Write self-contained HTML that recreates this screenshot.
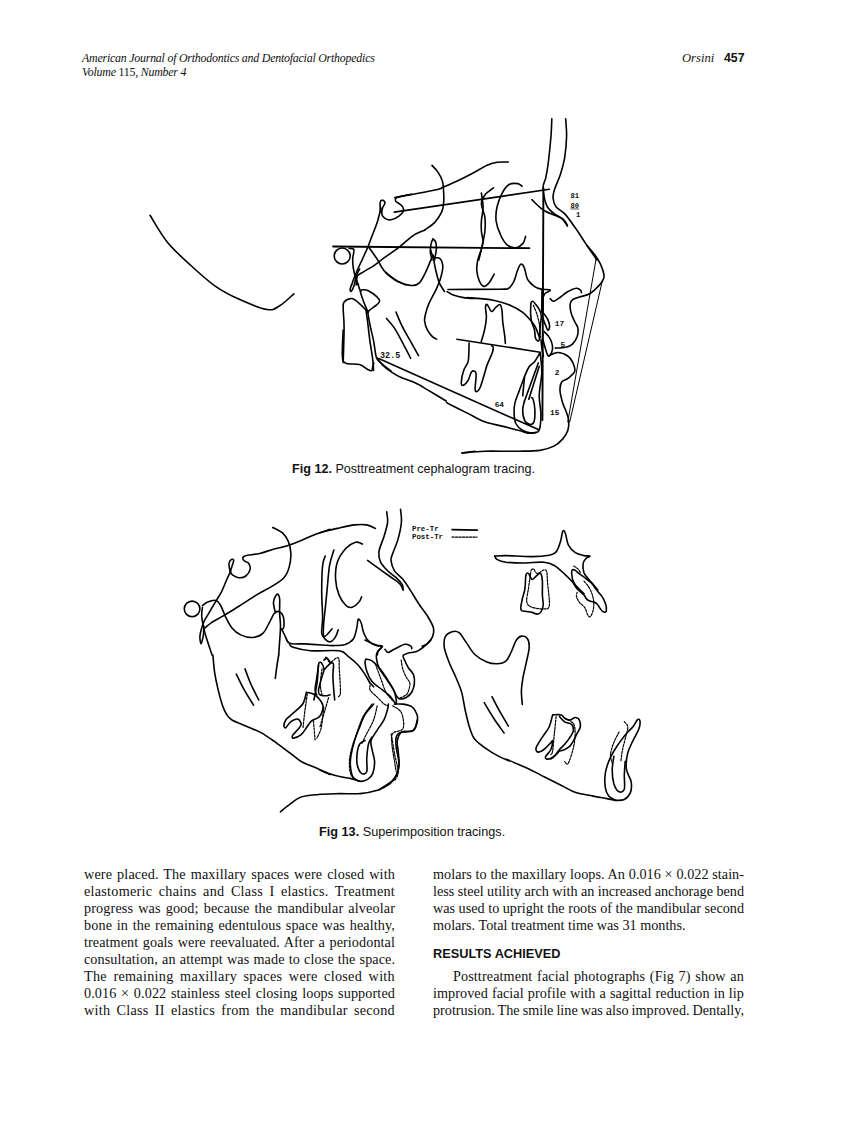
<!DOCTYPE html>
<html><head><meta charset="utf-8">
<style>
html,body{margin:0;padding:0;background:#fff;}
body{width:866px;height:1122px;position:relative;overflow:hidden;color:#111;}
.a{position:absolute;white-space:nowrap;}
.serif{font-family:"Liberation Serif",serif;}
.sans{font-family:"Liberation Sans",sans-serif;}
.hdr{font-size:11.9px;letter-spacing:-0.22px;font-style:italic;line-height:1;}
.col{position:absolute;font-family:"Liberation Serif",serif;font-size:14.2px;letter-spacing:0px;line-height:16.95px;text-align:justify;}
.col .l{display:block;height:16.95px;white-space:nowrap;}
.col .l.nj{text-align-last:left;}
.cap{font-family:"Liberation Sans",sans-serif;line-height:1;}
svg{position:absolute;left:0;top:0;}
.lbl text{font-family:"Liberation Mono",monospace;font-size:7.8px;font-weight:bold;}
#f13 .lbl text{font-weight:bold;}
</style></head><body>
<div class="a serif hdr" style="left:82px;top:52.5px;">American Journal of Orthodontics and Dentofacial Orthopedics</div>
<div class="a serif hdr" style="left:82px;top:67px;">Volume <span style="font-style:normal">115,</span> Number 4</div>
<div class="a serif" style="left:682px;top:52px;font-size:12.6px;font-style:italic;line-height:1;">Orsini</div>
<div class="a sans" style="left:724px;top:52px;font-size:12.3px;font-weight:bold;line-height:1;">457</div>

<div class="a cap" style="left:292px;top:463px;font-size:12.6px;"><b>Fig 12.</b> Posttreatment cephalogram tracing.</div>
<div class="a cap" style="left:319px;top:826px;font-size:12.7px;"><b>Fig 13.</b> Superimposition tracings.</div>

<div class="col" style="left:84px;top:866px;width:312px;">
<span class="l" style="letter-spacing:0.142px;word-spacing:1.242px">were placed. The maxillary spaces were closed with</span>
<span class="l" style="letter-spacing:0.264px;word-spacing:2.684px">elastomeric chains and Class I elastics. Treatment</span>
<span class="l" style="letter-spacing:0.133px;word-spacing:1.351px">progress was good; because the mandibular alveolar</span>
<span class="l" style="letter-spacing:0.117px;word-spacing:1.044px">bone in the remaining edentulous space was healthy,</span>
<span class="l" style="letter-spacing:0.082px;word-spacing:0.884px">treatment goals were reevaluated. After a periodontal</span>
<span class="l" style="letter-spacing:0.072px;word-spacing:0.579px">consultation, an attempt was made to close the space.</span>
<span class="l" style="letter-spacing:0.284px;word-spacing:2.723px">The remaining maxillary spaces were closed with</span>
<span class="l" style="letter-spacing:0.107px;word-spacing:0.987px">0.016 &times; 0.022 stainless steel closing loops supported</span>
<span class="l" style="letter-spacing:0.276px;word-spacing:2.362px">with Class II elastics from the mandibular second</span>
</div>

<div class="col" style="left:433px;top:866px;width:311px;">
<span class="l" style="letter-spacing:0.029px;word-spacing:0.215px">molars to the maxillary loops. An 0.016 &times; 0.022 stain-</span>
<span class="l" style="letter-spacing:0.000px;word-spacing:-0.127px">less steel utility arch with an increased anchorage bend</span>
<span class="l" style="letter-spacing:0.001px;word-spacing:0.007px">was used to upright the roots of the mandibular second</span>
<span class="l nj">molars. Total treatment time was 31 months.</span>
</div>
<div class="a sans" style="left:433px;top:948px;font-size:12.75px;font-weight:bold;line-height:1;">RESULTS ACHIEVED</div>
<div class="col" style="left:433px;top:968px;width:311px;">
<span class="l" style="letter-spacing:0.105px;word-spacing:1.030px"><span style="display:inline-block;width:20px"></span>Posttreatment facial photographs (Fig 7) show an</span>
<span class="l" style="letter-spacing:0.055px;word-spacing:0.471px">improved facial profile with a sagittal reduction in lip</span>
<span class="l" style="letter-spacing:0.000px;word-spacing:-0.547px">protrusion. The smile line was also improved. Dentally,</span>
</div>

<svg width="866" height="1122" viewBox="0 0 866 1122" fill="none" stroke="#000" stroke-width="1.6" stroke-linecap="round" stroke-linejoin="round">
<!-- FIG12 -->
<g id="f12">
<path d="M150.0 215.3 C152.9 219.7 160.8 234.0 167.4 242.2 C174.1 250.4 182.0 257.4 189.9 264.6 C197.8 271.9 206.5 280.0 214.8 285.8 C223.1 291.7 231.0 295.6 239.8 299.6 C248.5 303.5 260.6 308.5 267.2 309.5 C273.9 310.6 275.2 308.4 279.7 305.8 C284.1 303.2 291.5 295.8 293.9 293.8"/>
<path d="M333.1 246.5 L529.4 248.2" stroke-width="1.8"/>
<circle cx="342.2" cy="256.0" r="8.0"/>
<path d="M380.4 212.1 C380.4 210.5 379.8 204.3 380.2 202.3 C380.6 200.3 381.9 200.1 382.7 200.2 C383.5 200.3 385.0 201.7 385.0 202.9 C385.0 204.1 383.3 206.0 382.7 207.5 C382.2 209.1 381.8 210.7 381.8 212.1 C381.8 213.6 381.8 214.9 382.7 216.2 C383.7 217.4 385.8 219.1 387.4 219.6 C388.9 220.2 390.1 220.2 392.0 219.6 C393.9 219.1 397.0 217.6 398.9 216.2 C400.8 214.7 402.9 212.6 403.5 211.0 C404.1 209.3 403.1 207.6 402.4 206.4 C401.6 205.1 400.0 204.3 398.9 203.5 C397.8 202.6 396.2 202.0 395.7 201.2 C395.2 200.3 395.3 199.0 396.0 198.3 C396.7 197.5 397.5 197.2 400.1 196.5 C402.7 195.9 409.7 194.6 411.6 194.2"/>
<path d="M394.8 197.5 C395.7 197.3 393.1 197.9 400.0 196.6 C406.9 195.3 429.2 191.3 436.4 189.7 C443.6 188.1 439.8 188.5 443.3 187.1 C446.8 185.6 452.3 183.3 457.2 181.0 C462.1 178.7 467.8 175.8 472.7 173.2 C477.7 170.6 482.6 167.2 486.6 165.4 C490.6 163.6 493.4 162.9 497.0 162.3 C500.6 161.7 506.4 162.0 508.3 162.0"/>
<path d="M394.3 212.1 L549.3 189.3"/>
<path d="M381.0 208.1 C380.3 210.6 378.6 218.1 377.0 223.1 C375.3 228.1 372.7 234.1 371.2 238.1 C369.6 242.2 369.3 243.7 367.7 247.4 C366.2 251.0 363.9 255.8 362.0 260.1 C360.0 264.3 357.9 268.6 356.2 272.8 C354.4 276.9 352.3 283.0 351.6 285.0"/>
<path d="M351.5 285.0 C351.3 285.7 350.1 288.5 350.1 289.5 C350.1 290.5 350.7 291.9 351.3 291.2 C352.0 290.6 353.3 288.0 354.1 285.5 C354.9 283.0 355.3 278.7 356.2 276.0 C357.1 273.2 359.1 270.2 359.6 269.1"/>
<path d="M349.2 248.3 C350.0 248.5 353.3 247.9 353.9 249.7 C354.4 251.4 352.8 255.8 352.7 258.9 C352.6 262.0 352.7 264.7 353.3 268.1 C353.9 271.6 355.3 276.9 356.2 279.7 C357.0 282.5 358.1 284.1 358.5 285.0"/>
<path d="M356.2 279.6 L360.5 291.6"/>
<path d="M432.0 165.4 C433.1 166.6 436.4 169.8 438.1 172.4 C439.8 175.0 441.5 177.8 442.4 181.0 C443.4 184.2 443.4 187.7 443.6 191.4 C443.9 195.2 444.0 200.1 443.6 203.5 C443.3 207.0 443.1 209.0 441.6 212.2 C440.1 215.4 437.4 219.6 434.6 222.6 C431.8 225.5 426.4 228.6 424.8 229.9"/>
<path d="M425.0 230.0 C423.0 231.0 417.1 232.9 412.8 235.8 C408.4 238.7 403.9 243.5 398.9 247.4 C393.9 251.2 387.0 255.8 382.7 258.9 C378.5 262.0 377.0 263.5 373.5 265.8 C370.0 268.1 364.6 271.0 362.0 272.8 C359.3 274.5 358.3 274.2 357.3 276.2 C356.4 278.3 356.4 283.5 356.2 285.0"/>
<path d="M368.9 247.4 C370.2 249.3 374.5 255.1 377.0 258.9 C379.5 262.8 381.0 267.0 383.9 270.5 C386.8 273.9 390.6 277.3 394.3 279.7 C397.9 282.1 403.9 284.1 405.8 285.0"/>
<path d="M385.6 272.5 C387.6 274.0 393.4 279.0 397.7 281.2 C402.1 283.3 408.0 285.2 411.6 285.5 C415.2 285.8 417.1 285.1 419.4 282.9 C421.7 280.7 423.6 276.3 425.5 272.5 C427.3 268.8 429.4 263.3 430.7 260.4 C432.0 257.5 432.8 256.1 433.3 255.2"/>
<path d="M430.7 250.0 C431.1 251.2 431.7 255.5 433.3 256.9 C434.8 258.4 438.6 256.9 440.2 258.7 C441.8 260.4 442.8 263.9 442.8 267.3 C442.8 270.8 441.3 275.7 440.2 279.4 C439.0 283.2 437.7 285.8 435.9 289.8 C434.0 293.9 430.7 299.7 428.9 303.7 C427.2 307.7 426.2 311.2 425.5 314.1 C424.7 317.0 424.3 318.4 424.6 321.0 C424.9 323.6 425.9 327.1 427.2 329.7 C428.5 332.3 430.8 335.0 432.4 336.6 C434.0 338.2 436.0 338.8 436.7 339.2"/>
<path d="M433.3 256.9 C433.7 259.2 434.8 266.5 435.9 270.8 C436.9 275.1 437.9 279.4 439.3 282.9 C440.8 286.4 443.6 290.1 444.5 291.6"/>
<path d="M432.9 239.0 C432.6 239.8 431.6 241.2 431.2 243.4 C430.7 245.5 430.2 249.3 430.3 252.0 C430.5 254.8 431.8 258.7 432.0 260.0"/>
<path d="M432.9 239.0 C433.3 239.5 434.9 240.1 435.5 241.6 C436.1 243.2 436.5 245.5 436.4 248.6 C436.2 251.6 434.9 258.1 434.6 260.0"/>
<path d="M360.5 291.6 C360.8 291.3 360.9 290.0 362.2 289.8 C363.5 289.7 365.8 289.5 368.3 290.7 C370.8 291.9 375.1 295.0 377.0 296.8 C378.8 298.5 379.6 299.8 379.6 301.1 C379.6 302.4 378.6 303.1 377.0 304.6 C375.4 306.0 371.6 308.5 370.0 309.8 C368.4 311.1 367.9 311.9 367.4 312.4"/>
<path d="M360.5 292.4 C360.9 293.7 362.1 297.5 363.1 300.2 C364.1 303.0 365.7 306.9 366.6 308.9 C367.4 310.9 368.0 311.8 368.3 312.4"/>
<path d="M367.5 311.0 C367.9 313.3 369.0 320.0 370.0 325.0 C371.0 330.0 372.5 335.5 373.6 340.9 C374.7 346.3 375.2 353.8 376.4 357.5 C377.6 361.2 378.6 360.8 381.0 363.0 C383.4 365.2 389.3 369.7 391.0 371.0"/>
<path d="M366.0 310.0 C366.3 312.5 367.4 319.9 368.0 325.0 C368.6 330.1 369.1 335.2 369.9 340.9 C370.7 346.6 372.1 354.4 372.7 359.3 C373.3 364.2 373.5 368.5 373.6 370.4"/>
<path d="M373.8 362.9 C373.6 363.6 373.0 365.9 372.6 367.2 C372.3 368.5 372.5 370.3 371.8 370.7 C371.0 371.1 370.3 370.8 368.3 369.8 C366.3 368.8 363.1 365.7 359.6 364.6 C356.2 363.6 350.3 364.4 347.5 363.8 C344.8 363.2 344.1 363.1 343.2 361.2 C342.3 359.3 342.3 357.7 342.3 352.5 C342.3 347.3 343.0 333.8 343.2 330.0"/>
<path d="M343.2 362.6 C343.3 356.8 344.1 336.9 344.1 327.9 C344.1 319.0 343.2 313.2 343.2 308.9 C343.2 304.6 342.8 303.7 344.1 302.0 C345.4 300.2 349.1 298.8 351.0 298.5 C352.9 298.2 353.6 299.1 355.3 300.2 C357.0 301.4 359.5 303.7 361.4 305.4 C363.3 307.2 365.7 309.8 366.6 310.6"/>
<path d="M378.7 358.6 L538.3 429.6"/>
<path d="M377.0 357.7 C377.8 358.9 379.8 362.3 382.2 364.6 C384.5 367.0 387.6 369.4 390.8 371.6 C394.0 373.7 397.2 375.8 401.2 377.6 C405.3 379.5 410.5 380.7 415.1 382.8 C419.7 385.0 423.7 387.6 428.9 390.6 C434.1 393.7 443.4 399.3 446.2 401.0"/>
<path d="M446.5 402.4 C447.1 402.7 446.5 402.7 450.0 404.5 C453.5 406.3 461.5 410.3 467.3 413.1 C473.1 416.0 478.9 419.6 484.6 421.8 C490.4 424.0 496.2 424.7 502.0 426.1 C507.7 427.6 515.0 429.3 519.3 430.5 C523.6 431.6 525.1 432.8 527.9 433.1 C530.8 433.3 535.2 432.3 536.6 432.2"/>
<path d="M386.5 318.4 C387.8 320.0 391.7 324.0 394.3 327.9 C396.9 331.8 399.3 336.7 402.1 341.8 C404.8 346.9 409.3 355.5 410.7 358.3"/>
<path d="M396.0 312.0 C397.0 314.4 399.8 321.5 402.1 326.2 C404.4 330.9 407.1 335.2 409.9 340.1 C412.6 345.0 417.1 353.1 418.5 355.7"/>
<path d="M493.5 187.9 C492.1 189.1 486.9 192.3 484.9 194.9 C482.9 197.5 481.4 199.8 481.4 203.5 C481.4 207.3 484.3 212.8 484.9 217.4 C485.5 222.0 485.3 226.6 484.9 231.2 C484.4 235.9 483.3 240.3 482.3 245.1 C481.3 249.9 479.4 257.5 478.8 260.0"/>
<path d="M481.4 193.1 C481.7 195.5 483.1 202.4 483.1 207.0 C483.1 211.6 481.7 216.8 481.4 220.9 C481.1 224.9 481.1 227.8 481.4 231.2 C481.7 234.7 483.1 238.8 483.1 241.6 C483.1 244.5 481.7 247.4 481.4 248.6"/>
<path d="M481.2 250.0 C480.6 251.7 478.4 256.9 477.7 260.4 C477.0 263.9 476.6 267.3 476.8 270.8 C477.1 274.2 478.3 278.6 479.4 281.2 C480.6 283.8 482.2 286.1 483.8 286.4 C485.4 286.7 487.2 284.9 489.0 282.9 C490.7 280.9 493.3 275.7 494.2 274.2"/>
<path d="M522.1 186.2 C521.4 185.8 519.9 183.9 517.8 183.6 C515.6 183.3 511.7 182.9 509.1 184.5 C506.5 186.1 504.2 189.4 502.2 193.1 C500.2 196.9 498.0 202.4 497.0 207.0 C496.0 211.6 495.6 216.2 496.1 220.9 C496.7 225.5 498.6 230.7 500.5 234.7 C502.3 238.8 504.8 242.9 507.4 245.1 C510.0 247.3 513.5 248.0 516.1 247.7 C518.6 247.4 521.4 245.2 523.0 243.4 C524.6 241.5 525.1 237.6 525.6 236.4"/>
<path d="M551.8 118.7 C551.7 121.5 551.6 128.8 551.0 136.0 C550.4 143.2 549.2 155.0 548.4 162.0 C547.5 168.9 546.7 173.5 545.8 177.6 C544.9 181.6 543.5 183.0 543.2 186.2 C542.9 189.4 543.3 193.1 544.1 196.6 C544.8 200.1 545.8 204.1 547.5 207.0 C549.2 209.9 551.8 211.9 554.4 213.9 C557.0 215.9 560.9 217.2 563.1 219.1 C565.3 221.0 566.7 224.2 567.4 225.2"/>
<path d="M567.4 226.1 C566.4 224.8 565.3 220.9 561.4 218.3 C557.5 215.7 549.0 213.6 544.1 210.5 C539.1 207.4 533.9 201.5 531.9 199.7"/>
<path d="M565.7 118.7 C565.8 121.5 566.7 129.6 566.6 136.0 C566.4 142.3 565.8 150.4 564.8 156.8 C563.8 163.1 562.2 168.6 560.5 174.1 C558.8 179.6 555.7 185.6 554.4 189.7 C553.2 193.7 552.8 195.5 553.1 198.3 C553.3 201.2 554.2 204.4 556.2 207.0 C558.1 209.6 561.7 210.5 564.8 213.9 C568.0 217.4 571.8 222.9 575.2 227.8 C578.7 232.7 582.0 238.0 585.6 243.4 C589.2 248.7 595.0 257.2 596.9 260.0"/>
<path d="M586.6 245.0 C588.0 246.8 593.0 252.3 595.3 255.4 C597.6 258.6 599.0 260.9 600.5 264.1 C601.9 267.3 603.5 271.9 603.9 274.5 C604.4 277.1 603.8 277.9 603.1 279.7 C602.3 281.4 601.8 282.6 599.6 284.9 C597.4 287.2 593.4 291.5 590.1 293.5 C586.7 295.6 582.6 296.0 579.7 297.0 C576.8 298.0 574.3 298.4 572.7 299.6 C571.2 300.8 570.4 301.8 570.2 303.9 C569.9 306.1 570.3 309.7 571.0 312.6 C571.7 315.5 573.3 318.6 574.5 321.2 C575.6 323.8 577.5 325.6 577.9 328.2 C578.4 330.8 577.9 334.2 577.1 336.8 C576.2 339.4 574.6 342.0 572.7 343.8 C570.9 345.5 568.7 346.5 565.8 347.2 C562.9 348.0 557.2 348.0 555.4 348.1"/>
<path d="M550.2 298.7 C550.8 299.2 552.0 301.6 553.7 301.3 C555.4 301.0 558.3 298.6 560.6 297.0 C562.9 295.4 565.0 293.2 567.6 291.8 C570.2 290.4 574.0 288.6 576.2 288.3 C578.4 288.0 579.7 289.3 580.5 290.1 C581.4 290.8 581.3 292.2 581.4 292.7"/>
<path d="M596.1 258.9 L567.8 422.0" stroke-width="1.0"/>
<path d="M602.2 281.4 L569.7 422.0" stroke-width="1.0"/>
<path d="M548.7 356.0 C550.2 355.4 554.2 352.5 557.4 352.5 C560.6 352.5 565.2 354.2 567.8 356.0 C570.4 357.7 571.8 360.3 573.0 362.9 C574.1 365.5 575.6 369.0 574.7 371.6 C573.8 374.2 569.9 376.8 567.8 378.5 C565.6 380.2 563.0 379.9 561.7 382.0 C560.4 384.0 559.8 387.2 560.0 390.6 C560.1 394.1 561.6 399.3 562.6 402.7 C563.6 406.2 565.0 408.5 566.1 411.4 C567.1 414.3 568.4 416.9 568.6 420.1 C568.9 423.2 568.8 427.3 567.8 430.5 C566.8 433.6 564.9 436.5 562.6 439.1 C560.3 441.7 557.7 444.2 553.9 446.1 C550.2 447.9 545.8 449.5 540.1 450.4 C534.3 451.2 528.5 451.1 519.3 451.2 C510.0 451.4 494.2 451.0 484.6 451.2 C475.1 451.5 465.9 452.7 462.1 453.0"/>
<path d="M461.8 453.0 L475.0 451.2"/>
<path d="M543.4 188.0 L542.4 420.0" stroke-width="1.9"/>
<path d="M542.6 290.0 L542.3 312.0" stroke-width="2.8"/>
<path d="M448.0 289.5 C456.7 289.5 489.9 289.4 500.0 289.2 C510.1 289.0 506.4 289.6 508.7 288.3 C511.0 287.0 512.4 284.3 513.9 281.4 C515.3 278.5 516.2 273.9 517.3 271.0 C518.5 268.1 519.6 264.7 520.8 264.1 C521.9 263.5 523.1 265.0 524.2 267.6 C525.4 270.2 526.0 276.5 527.7 279.7 C529.4 282.9 532.3 285.0 534.6 286.6 C537.0 288.2 539.0 288.6 541.6 289.2 C544.2 289.8 549.7 289.3 550.2 290.1 C550.8 290.8 546.2 292.4 545.0 293.5 C543.9 294.7 543.6 296.4 543.3 297.0"/>
<path d="M447.1 291.6 C448.1 292.1 450.4 294.0 453.2 295.0 C455.9 296.0 459.9 297.1 463.6 297.6 C467.2 298.2 473.1 298.4 475.0 298.5"/>
<path d="M467.3 297.6 C471.7 298.1 486.1 298.9 493.3 300.2 C500.5 301.5 505.7 303.4 510.6 305.4 C515.5 307.4 519.6 310.0 522.7 312.4 C525.9 314.7 527.7 317.0 529.7 319.3 C531.7 321.6 533.3 323.3 534.9 326.2 C536.5 329.1 538.5 334.9 539.2 336.6"/>
<path d="M481.2 341.8 C481.8 339.8 483.8 333.7 484.6 329.7 C485.5 325.6 486.2 321.3 486.4 317.6 C486.5 313.8 485.4 309.3 485.5 307.2 C485.7 305.0 486.2 303.8 487.2 304.6 C488.3 305.3 490.1 311.1 491.6 311.5 C493.0 311.9 494.5 308.3 495.9 307.2 C497.3 306.0 499.2 304.0 500.2 304.6 C501.2 305.1 501.5 307.6 502.0 310.6 C502.4 313.7 502.4 318.7 502.8 322.7 C503.3 326.8 504.1 331.4 504.6 334.9 C505.0 338.3 505.3 342.1 505.4 343.5"/>
<path d="M456.9 339.2 L540.1 352.2"/>
<path d="M469.1 343.0 C468.9 346.0 469.1 356.7 468.2 361.2 C467.3 365.7 465.0 366.4 463.9 369.8 C462.7 373.3 461.4 379.4 461.3 382.0 C461.1 384.6 461.8 385.7 463.0 385.4 C464.1 385.1 466.7 382.5 468.2 380.2 C469.6 377.9 470.4 372.7 471.7 371.6 C473.0 370.4 475.4 370.4 476.0 373.3 C476.6 376.2 475.0 385.9 475.1 388.9 C475.3 391.9 476.0 391.8 476.8 391.5 C477.7 391.2 479.0 390.2 480.3 387.2 C481.6 384.1 483.5 377.1 484.6 373.3 C485.8 369.5 485.9 368.1 487.2 364.6 C488.5 361.2 491.4 355.4 492.4 352.5 C493.4 349.6 493.4 348.5 493.3 347.3 C493.2 346.2 491.9 345.9 491.6 345.6"/>
<path d="M531.3 302.1 C531.6 302.0 532.3 301.0 533.0 301.4 C533.8 301.8 534.7 303.2 535.8 304.5 C536.8 305.9 538.3 307.6 539.2 309.4 C540.2 311.2 541.1 313.4 541.3 315.6 C541.6 317.8 540.9 320.1 540.6 322.6 C540.4 325.0 540.2 327.3 539.9 330.2 C539.7 333.1 539.7 338.2 539.2 339.9 C538.8 341.6 537.8 340.9 537.2 340.6 C536.5 340.2 535.9 339.7 535.4 337.8 C535.0 336.0 535.0 332.1 534.4 329.5 C533.8 326.8 532.3 324.5 531.6 321.9 C531.0 319.2 530.7 316.3 530.6 313.6 C530.5 310.8 530.7 307.1 530.8 305.2 C530.9 303.3 531.2 302.6 531.3 302.1"/>
<path d="M533.4 305.2 C534.0 306.9 536.1 311.5 537.2 314.9 C538.2 318.4 539.1 322.1 539.6 326.0 C540.1 330.0 540.2 336.4 540.3 338.5" stroke-dasharray="2.2 1.3" stroke-width="1.2"/>
<path d="M542.7 312.2 C543.5 313.3 546.4 316.8 547.6 319.1 C548.7 321.4 549.6 324.2 549.6 326.0 C549.7 327.9 548.7 330.6 547.9 330.2 C547.1 329.7 545.7 325.3 544.8 323.3 C543.9 321.2 543.1 318.6 542.7 317.7"/>
<path d="M544.1 331.6 C545.0 332.6 548.3 335.5 549.6 337.8 C551.0 340.1 552.1 343.0 552.4 345.4 C552.8 347.9 552.4 350.6 551.7 352.4 C551.0 354.1 549.3 356.4 548.3 355.8 C547.2 355.2 546.4 351.8 545.5 348.9 C544.6 346.0 543.1 340.9 542.7 338.5 C542.3 336.1 543.0 335.0 543.1 334.3"/>
<path d="M541.0 339.9 C541.2 341.4 541.6 346.1 542.0 348.9 C542.4 351.7 543.2 355.2 543.4 356.5"/>
<path d="M540.1 352.5 C539.2 354.0 536.7 358.7 534.9 361.2 C533.0 363.6 530.5 364.6 528.8 367.2 C527.1 369.8 526.1 372.9 524.5 376.8 C522.9 380.7 520.9 386.3 519.3 390.6 C517.7 395.0 515.8 399.0 515.0 402.7 C514.1 406.5 513.9 409.7 514.1 413.1 C514.2 416.6 514.4 420.6 515.8 423.5 C517.3 426.4 520.2 428.9 522.7 430.5 C525.3 432.0 529.0 432.8 531.4 433.1 C533.9 433.3 536.0 433.2 537.5 432.2 C538.9 431.2 539.5 430.2 540.1 427.0 C540.6 423.8 541.1 418.3 540.9 413.1 C540.8 407.9 539.1 402.5 539.2 395.8 C539.3 389.2 541.5 379.4 541.8 373.3 C542.1 367.2 541.2 362.9 540.9 359.4 C540.6 356.0 540.2 353.7 540.1 352.5"/>
<path d="M524.5 401.0 C524.2 402.5 522.7 406.5 522.7 409.7 C522.7 412.9 523.3 417.6 524.5 420.1 C525.6 422.5 528.1 424.1 529.7 424.4 C531.3 424.7 533.1 424.3 534.0 421.8 C534.9 419.3 535.0 413.4 534.9 409.7 C534.7 405.9 533.7 401.3 533.1 399.3 C532.6 397.3 531.7 397.8 531.4 397.6"/>
<path d="M538.3 362.9 L524.5 401.0"/>
<path d="M539.2 366.4 L528.8 399.3"/>
<path d="M524.5 376.8 L522.7 395.8"/>
<g class="lbl" fill="#111" stroke="none"><text x="570.4" y="197.5" style="font-size:7.2px">81</text>
<text x="570.4" y="207.6" text-decoration="underline" style="font-size:7.2px">80</text>
<text x="576.0" y="216.5" style="font-size:7.2px">1</text>
<text x="380.1" y="358.4" style="font-size:8.4px">32.5</text>
<text x="554.8" y="326.3" style="font-size:7.8px">17</text>
<text x="560.6" y="346.9" style="font-size:7.8px">5</text>
<text x="554.8" y="374.9" style="font-size:7.8px">2</text>
<text x="550.1" y="414.7" style="font-size:7.8px">15</text>
<text x="494.7" y="406.9" style="font-size:7.8px">64</text></g></g><!--e12-->
<!-- FIG13 -->
<g id="f13">
<circle cx="192.1" cy="608.9" r="7.8"/>
<path d="M230.2 572.6 C230.0 571.1 228.9 566.1 229.0 563.9 C229.2 561.7 230.3 560.2 231.1 559.6 C231.9 558.9 233.5 559.2 233.7 560.1 C233.9 560.9 233.0 562.8 232.5 564.8 C232.0 566.7 230.5 570.0 230.6 571.7 C230.6 573.4 231.4 574.1 232.8 575.2 C234.2 576.2 236.7 577.6 238.9 577.7 C241.1 577.9 243.9 577.5 245.8 576.0 C247.7 574.6 249.7 571.3 250.2 569.1 C250.6 566.9 249.4 564.4 248.4 563.0 C247.4 561.6 245.0 561.8 244.1 560.8 C243.2 559.8 242.6 557.9 243.2 557.0 C243.8 556.0 244.8 555.8 247.6 555.2 C250.3 554.7 255.3 554.5 259.7 553.5 C264.0 552.5 268.9 550.5 273.5 549.2 C278.2 547.9 282.8 547.1 287.4 545.7 C292.0 544.3 296.6 542.4 301.2 540.5 C305.9 538.6 310.3 536.3 315.1 534.4 C319.9 532.6 327.5 530.1 330.0 529.2"/>
<path d="M320.0 532.7 C322.9 532.0 331.5 529.7 337.3 528.4 C343.1 527.1 349.7 525.5 354.6 524.9 C359.5 524.3 363.3 524.3 366.8 524.9 C370.2 525.5 374.0 527.8 375.4 528.4"/>
<path d="M272.7 527.5 C274.3 528.4 279.6 530.4 282.2 532.7 C284.8 535.0 286.8 537.9 288.3 541.4 C289.7 544.8 290.7 549.2 290.9 553.5 C291.0 557.8 290.3 563.3 289.1 567.4 C288.0 571.4 286.8 574.6 283.9 577.7 C281.0 580.9 276.4 583.5 271.8 586.4 C267.2 589.3 261.7 591.7 256.2 595.1 C250.7 598.4 244.4 602.9 238.9 606.3 C233.4 609.8 227.9 613.1 223.3 615.9 C218.7 618.6 214.2 620.8 211.2 622.8 C208.1 624.8 206.1 627.1 205.1 628.0"/>
<path d="M230.6 571.7 C229.9 573.0 228.3 576.2 226.8 579.5 C225.3 582.8 223.3 588.1 221.6 591.6 C219.8 595.1 218.3 597.1 216.4 600.3 C214.5 603.4 212.3 607.2 210.3 610.7 C208.3 614.1 205.7 618.2 204.2 621.1 C202.8 623.9 202.4 625.4 201.7 628.0 C200.9 630.6 200.0 634.0 199.9 636.6 C199.8 639.2 200.6 643.9 201.1 643.6 C201.7 643.3 202.9 637.8 203.4 634.9 C203.8 632.0 203.8 627.7 203.9 626.2"/>
<path d="M202.5 605.5 C203.4 604.9 205.5 602.9 207.7 602.0 C209.9 601.1 213.3 599.7 215.5 600.3 C217.7 600.8 219.0 602.6 220.7 605.5 C222.4 608.3 224.0 613.8 225.9 617.6 C227.8 621.3 229.5 625.1 232.0 628.0 C234.4 630.9 237.2 633.3 240.6 634.9 C244.1 636.5 249.0 637.8 252.7 637.5 C256.5 637.2 260.3 635.9 263.1 633.2 C266.0 630.4 268.2 624.4 270.1 621.1 C271.9 617.7 273.0 614.8 274.4 613.3 C275.8 611.7 277.3 611.1 278.7 611.5 C280.2 612.0 282.2 613.4 283.1 615.9 C283.9 618.3 284.1 623.9 283.9 626.2 C283.8 628.6 282.5 629.1 282.2 629.7"/>
<path d="M202.5 607.2 C202.4 608.6 201.5 612.7 201.7 615.9 C201.8 619.0 202.7 622.8 203.4 626.2 C204.1 629.7 204.5 631.8 206.0 636.6 C207.4 641.4 211.0 651.9 212.0 655.0"/>
<path d="M212.9 655.0 C213.2 657.9 213.8 666.5 214.6 672.3 C215.5 678.1 216.8 684.2 218.1 689.6 C219.4 695.1 221.0 701.0 222.4 705.2 C223.9 709.4 225.2 712.3 226.8 714.8 C228.4 717.2 228.8 718.1 232.0 720.0 C235.1 721.8 240.9 723.9 245.8 726.0 C250.7 728.2 256.2 730.1 261.4 732.9 C266.6 735.8 272.1 739.9 277.0 743.3 C281.9 746.8 286.8 750.7 290.9 753.7 C294.9 756.8 297.2 759.2 301.2 761.5 C305.3 763.8 310.3 765.4 315.1 767.6 C319.9 769.8 327.5 773.4 330.0 774.5"/>
<path d="M275.3 612.4 C275.0 610.7 273.2 605.0 273.5 602.0 C273.8 599.0 276.0 594.8 277.0 594.2 C278.0 593.6 279.2 595.5 279.6 598.5 C280.0 601.6 279.5 607.8 279.6 612.4 C279.7 617.0 280.5 621.3 280.5 626.2 C280.5 631.2 279.9 637.0 279.6 641.8 C279.3 646.6 278.9 652.8 278.7 655.0"/>
<path d="M278.7 655.0 C278.4 656.7 277.6 661.5 277.0 665.4 C276.4 669.3 275.6 676.2 275.3 678.4"/>
<path d="M325.2 556.1 C324.8 557.7 323.2 559.7 322.6 565.6 C322.0 571.5 321.7 582.9 321.7 591.6 C321.7 600.3 322.6 610.7 322.6 617.6 C322.6 624.5 321.3 629.6 321.7 633.2 C322.2 636.8 323.8 637.8 325.2 639.2 C326.6 640.7 328.7 642.3 330.4 641.8 C332.1 641.4 334.3 638.7 335.6 636.6 C336.9 634.6 337.8 630.9 338.2 629.7"/>
<path d="M333.9 550.0 C333.1 552.6 330.7 558.7 329.5 565.6 C328.4 572.6 327.7 584.4 326.9 591.6 C326.2 598.8 325.8 603.2 325.2 608.9 C324.6 614.7 323.6 621.6 323.5 626.2 C323.3 630.9 322.9 636.2 324.3 636.6 C325.8 637.1 330.8 630.1 332.1 628.8"/>
<path d="M362.4 544.0 C361.3 543.7 358.3 541.5 355.5 542.2 C352.8 543.0 349.0 545.0 346.0 548.3 C343.0 551.6 339.1 557.0 337.3 562.2 C335.6 567.4 335.3 574.0 335.6 579.5 C335.9 585.0 337.3 590.7 339.1 595.1 C340.8 599.4 343.8 603.4 346.0 605.5 C348.1 607.5 349.9 607.8 352.0 607.2 C354.2 606.6 357.4 603.7 359.0 602.0 C360.6 600.3 361.1 597.7 361.6 596.8"/>
<path d="M386.7 511.9 C386.8 513.7 388.0 518.3 387.6 522.3 C387.1 526.4 385.5 531.3 384.1 536.2 C382.6 541.1 379.5 547.4 378.9 551.8 C378.3 556.1 379.2 559.0 380.6 562.2 C382.1 565.3 385.0 568.2 387.6 570.8 C390.2 573.4 393.8 575.4 396.2 577.7 C398.7 580.1 401.1 582.7 402.3 584.7 C403.4 586.7 403.0 589.0 403.1 589.9"/>
<path d="M367.6 560.4 C369.2 561.6 373.6 564.8 377.2 567.4 C380.8 570.0 385.5 573.3 389.3 576.0 C393.0 578.8 397.4 581.5 399.7 583.8 C402.0 586.1 402.6 588.9 403.1 589.9"/>
<path d="M400.5 509.3 C400.7 511.5 401.8 517.3 401.4 522.3 C401.0 527.4 399.4 534.4 397.9 539.6 C396.5 544.8 393.9 550.0 392.7 553.5 C391.6 557.0 390.7 557.5 391.0 560.4 C391.3 563.3 392.5 567.6 394.5 570.8 C396.5 574.0 400.5 576.3 403.1 579.5 C405.7 582.7 407.5 585.8 410.1 589.9 C412.7 593.9 415.8 599.4 418.7 603.7 C421.6 608.1 424.9 611.8 427.4 615.9 C429.8 619.9 432.6 624.5 433.5 628.0 C434.3 631.4 433.6 634.0 432.6 636.6 C431.6 639.2 429.1 642.0 427.4 643.6 C425.7 645.2 423.1 645.7 422.2 646.2"/>
<path d="M281.5 628.9 C282.1 630.0 283.7 633.4 285.0 635.8 C286.4 638.2 286.4 642.0 289.6 643.3 C292.9 644.6 299.3 643.6 304.6 643.9 C310.0 644.2 317.2 644.7 322.0 645.0 C326.8 645.3 329.7 645.7 333.5 645.6 C337.4 645.5 341.8 645.5 345.1 644.5 C348.3 643.4 351.2 641.9 353.1 639.3 C355.1 636.7 355.8 631.9 356.6 628.9 C357.4 625.8 357.4 622.4 357.8 620.8 C358.1 619.1 358.3 618.7 358.9 619.1 C359.5 619.4 360.5 620.9 361.2 623.1 C362.0 625.3 362.6 629.6 363.5 632.3 C364.5 635.0 365.7 637.4 367.0 639.3 C368.3 641.1 369.9 642.3 371.6 643.3 C373.3 644.3 375.6 644.8 377.4 645.3 C379.2 645.7 382.4 645.3 382.6 646.2 C382.8 647.1 379.4 649.3 378.5 650.8 C377.6 652.3 377.4 654.3 377.2 655.0"/>
<path d="M289.6 644.5 C290.2 644.9 289.6 646.3 293.1 647.3 C296.6 648.4 302.7 650.2 310.4 650.8 C318.1 651.4 332.9 649.8 339.3 650.8 C345.6 651.8 345.4 654.3 348.5 656.6 C351.6 658.9 355.1 661.8 357.8 664.7 C360.5 667.6 362.6 670.8 364.7 673.9 C366.7 677.0 369.1 681.6 370.0 683.1"/>
<path d="M370.2 683.3 L373.7 686.8"/>
<path d="M280.4 811.8 C281.8 810.6 285.6 807.3 289.1 804.9 C292.5 802.4 296.3 798.8 301.2 797.1 C306.1 795.3 312.1 795.1 318.5 794.5 C324.8 793.9 332.4 793.8 339.3 793.6 C346.2 793.5 353.7 794.2 360.1 793.6 C366.4 793.0 372.5 791.7 377.4 790.2 C382.3 788.6 386.3 786.5 389.5 784.1 C392.7 781.6 394.9 778.6 396.4 775.4 C398.0 772.3 398.8 769.1 399.0 765.0 C399.3 761.0 398.5 755.2 398.2 751.2 C397.9 747.1 396.7 744.0 397.3 740.8 C397.9 737.6 399.2 733.7 401.6 732.1 C404.1 730.5 409.7 732.1 412.0 731.3 C414.3 730.4 414.6 728.8 415.5 726.9 C416.4 725.1 416.9 721.2 417.2 720.0"/>
<path d="M391.2 733.9 C391.8 737.3 393.6 748.3 394.7 754.6 C395.9 761.0 398.2 767.6 398.2 772.0 C398.2 776.3 395.3 779.2 394.7 780.6" stroke-dasharray="2.2 1.3" stroke-width="1.2"/>
<path d="M313.9 700.0 C314.5 696.8 316.6 686.7 317.3 680.8 C318.1 674.9 317.9 667.7 318.5 664.7 C319.1 661.6 320.0 662.2 320.8 662.4 C321.6 662.5 322.5 664.7 323.1 665.8 C323.7 667.0 323.5 669.3 324.3 669.3 C325.0 669.3 326.6 666.9 327.7 665.8 C328.9 664.8 330.2 663.1 331.2 662.9 C332.2 662.7 333.2 662.6 333.5 664.7 C333.8 666.7 332.9 671.4 332.9 675.1 C332.9 678.7 333.2 682.4 333.5 686.6 C333.8 690.8 334.5 697.8 334.7 700.0"/>
<path d="M324.3 669.3 C323.7 671.2 321.8 677.4 320.8 680.8 C319.8 684.3 318.7 687.8 318.5 690.1 C318.3 692.4 318.5 693.7 319.7 694.7 C320.8 695.7 323.7 695.8 325.4 695.8 C327.2 695.8 329.3 694.9 330.0 694.7"/>
<path d="M324.8 658.9 C325.1 658.6 325.7 656.6 326.6 657.2 C327.4 657.7 328.1 662.3 330.0 662.4 C332.0 662.5 336.6 656.6 338.1 657.7 C339.7 658.9 338.9 663.5 339.3 669.3 C339.7 675.1 340.6 687.8 340.4 692.4 C340.2 697.0 338.5 696.2 338.1 697.0" stroke-dasharray="2.2 1.3" stroke-width="1.2"/>
<path d="M401.2 660.0 C401.4 661.5 402.0 666.4 402.9 669.3 C403.8 672.2 405.2 675.1 406.4 677.4 C407.5 679.7 409.5 681.1 409.9 683.2 C410.2 685.3 409.3 688.2 408.7 690.1 C408.1 692.1 407.9 693.4 406.4 694.8 C404.8 696.1 400.6 697.7 399.4 698.3" stroke-dasharray="2.2 1.3" stroke-width="1.2"/>
<path d="M365.0 640.0 C366.8 640.9 372.7 644.0 375.4 645.2 C378.2 646.4 381.2 645.8 381.5 646.9 C381.8 648.1 378.0 650.4 377.2 652.1 C376.3 653.9 376.0 654.7 376.3 657.3 C376.6 659.9 377.3 664.2 378.9 667.7 C380.5 671.2 383.5 674.6 385.8 678.1 C388.1 681.6 391.0 685.6 392.7 688.5 C394.5 691.4 395.1 693.7 396.2 695.4 C397.4 697.2 397.9 698.6 399.7 698.9 C401.4 699.2 404.6 698.3 406.6 697.2 C408.6 696.0 410.5 694.3 411.8 692.0 C413.1 689.7 414.1 686.2 414.4 683.3 C414.7 680.4 414.5 677.2 413.5 674.6 C412.5 672.0 409.8 670.0 408.3 667.7 C406.9 665.4 405.7 662.8 404.9 660.8 C404.0 658.8 402.6 656.9 403.1 655.6 C403.7 654.3 406.0 653.7 408.3 653.0 C410.6 652.3 414.1 652.6 417.0 651.3 C419.9 650.0 423.3 647.1 425.7 645.2 C428.0 643.3 430.0 640.9 430.9 640.0"/>
<path d="M385.0 649.4 C385.5 649.9 386.8 652.4 388.2 652.5 C389.7 652.5 390.8 650.9 393.6 649.5 C396.4 648.2 402.0 644.9 404.9 644.3 C407.8 643.8 409.8 645.3 410.9 646.1 C412.1 646.8 411.7 648.2 411.8 648.7"/>
<path d="M365.9 659.1 C366.9 659.3 369.5 659.1 372.0 660.8 C374.4 662.5 378.0 666.3 380.6 669.4 C383.2 672.6 385.2 676.1 387.6 679.8 C389.9 683.6 393.0 687.9 394.5 692.0 C395.9 696.0 396.8 703.2 396.2 704.1 C395.6 705.0 393.6 699.8 391.0 697.2 C388.4 694.6 383.8 691.1 380.6 688.5 C377.4 685.9 374.3 684.5 372.0 681.6 C369.7 678.7 367.9 674.4 366.8 671.2 C365.6 668.0 365.2 664.5 365.0 662.5 C364.9 660.5 365.8 659.6 365.9 659.1"/>
<path d="M370.2 685.0 C370.2 685.9 369.1 688.2 370.2 690.2 C371.4 692.3 374.8 694.8 377.2 697.2 C379.5 699.5 382.2 702.6 384.1 704.1 C386.0 705.5 387.7 705.5 388.4 705.8" stroke-dasharray="2.2 1.3" stroke-width="1.2"/>
<path d="M375.4 664.2 C376.3 666.6 378.9 673.5 380.6 678.1 C382.4 682.7 383.8 688.2 385.8 692.0 C387.8 695.7 391.6 699.2 392.7 700.6" stroke-dasharray="2.2 1.3" stroke-width="1.2"/>
<path d="M394.5 704.1 C395.9 704.1 400.3 703.7 403.1 704.1 C406.0 704.5 409.5 705.0 411.8 706.7 C414.1 708.4 416.1 711.7 417.0 714.5 C417.9 717.2 417.6 720.5 417.0 723.1 C416.4 725.7 415.3 728.6 413.5 730.1 C411.8 731.5 408.9 731.4 406.6 731.8 C404.3 732.2 401.4 731.8 399.7 732.7 C397.9 733.5 396.8 734.5 396.2 737.0 C395.6 739.5 395.8 743.3 396.2 747.4 C396.6 751.4 398.5 757.2 398.8 761.2 C399.1 765.3 399.0 768.5 397.9 771.6 C396.9 774.8 394.8 778.0 392.7 780.3 C390.7 782.6 388.1 783.9 385.8 785.5 C383.5 787.1 380.0 789.2 378.9 790.0"/>
<path d="M392.7 705.8 C394.2 707.0 399.7 709.0 401.4 712.7 C403.1 716.5 404.6 724.9 403.1 728.3 C401.7 731.8 394.6 730.9 392.7 733.5 C390.9 736.1 391.6 739.3 391.9 743.9 C392.2 748.5 393.8 756.6 394.5 761.2 C395.2 765.9 395.9 769.9 396.2 771.6" stroke-dasharray="2.2 1.3" stroke-width="1.2"/>
<path d="M373.7 704.1 C372.3 705.8 367.3 710.7 365.0 714.5 C362.7 718.2 361.6 722.3 359.8 726.6 C358.1 730.9 356.1 735.8 354.6 740.5 C353.2 745.1 351.9 750.3 351.2 754.3 C350.5 758.4 350.0 761.0 350.3 764.7 C350.6 768.5 351.3 774.1 352.9 776.8 C354.5 779.6 357.4 780.7 359.8 781.2 C362.3 781.6 365.5 780.7 367.6 779.4 C369.8 778.1 371.7 776.4 372.8 773.4 C374.0 770.3 374.7 765.3 374.6 761.2 C374.4 757.2 372.5 752.6 372.0 749.1 C371.4 745.7 370.2 743.6 371.1 740.5 C372.0 737.3 375.0 733.5 377.2 730.1 C379.3 726.6 382.4 723.1 384.1 719.7 C385.8 716.2 386.8 711.9 387.6 709.3 C388.3 706.7 388.3 705.0 388.4 704.1"/>
<path d="M365.0 740.5 C364.2 741.0 361.1 741.9 359.8 743.9 C358.5 745.9 357.7 749.1 357.2 752.6 C356.8 756.1 356.5 761.2 357.2 764.7 C358.0 768.2 360.0 772.2 361.6 773.4 C363.2 774.5 365.9 774.2 366.8 771.6 C367.6 769.0 366.5 762.4 366.8 757.8 C367.1 753.2 367.6 747.4 368.5 743.9 C369.4 740.5 371.4 738.2 372.0 737.0"/>
<path d="M372.0 704.1 C370.5 706.1 365.8 711.6 363.3 716.2 C360.8 720.8 359.1 726.6 357.2 731.8 C355.4 737.0 353.3 742.5 352.0 747.4 C350.7 752.3 349.6 756.6 349.4 761.2 C349.3 765.9 349.4 771.6 351.2 775.1 C352.9 778.6 358.4 780.9 359.8 782.0" stroke-dasharray="2.2 1.3" stroke-width="1.2"/>
<path d="M377.2 705.8 C376.6 708.1 375.4 715.1 373.7 719.7 C372.0 724.3 368.8 729.5 366.8 733.5 C364.7 737.6 362.4 742.2 361.6 743.9" stroke-dasharray="2.2 1.3" stroke-width="1.2"/>
<path d="M320.0 769.9 C321.4 770.5 325.2 772.2 328.7 773.4 C332.1 774.5 337.0 776.0 340.8 776.8 C344.5 777.7 348.0 777.8 351.2 778.6 C354.4 779.3 358.4 780.7 359.8 781.2"/>
<path d="M320.0 726.6 C320.9 723.7 323.8 714.2 325.2 709.3 C326.6 704.4 328.1 699.2 328.7 697.2" stroke-dasharray="2.2 1.3" stroke-width="1.2"/>
<path d="M323.8 660.2 C324.3 659.9 326.2 658.2 327.2 658.5 C328.3 658.8 329.5 661.4 330.0 661.9"/>
<path d="M318.6 665.4 C318.3 667.4 317.4 673.5 316.8 677.5 C316.3 681.6 315.1 686.8 315.1 689.6 C315.1 692.5 316.5 694.0 316.8 694.8"/>
<path d="M322.0 668.9 C321.7 671.5 320.3 680.1 320.3 684.4 C320.3 688.8 321.7 693.1 322.0 694.8" stroke-dasharray="2.2 1.3" stroke-width="1.2"/>
<path d="M306.4 692.2 C305.9 694.1 305.0 700.2 303.0 703.5 C301.0 706.8 297.1 709.6 294.3 712.2 C291.6 714.8 288.3 716.9 286.5 719.1 C284.8 721.3 284.1 723.7 283.9 725.2 C283.8 726.6 284.5 728.3 285.7 727.7 C286.8 727.2 288.8 723.1 290.9 721.7 C292.9 720.2 296.1 718.7 297.8 719.1 C299.5 719.5 301.2 722.6 301.2 724.3 C301.2 726.0 299.2 727.6 297.8 729.5 C296.3 731.4 293.3 734.1 292.6 735.5 C291.9 737.0 292.0 738.3 293.5 738.1 C294.9 738.0 299.1 736.4 301.2 734.7 C303.4 732.9 304.7 730.1 306.4 727.7 C308.2 725.4 309.6 722.6 311.6 720.8 C313.7 719.1 316.8 718.8 318.6 717.4 C320.3 715.9 321.3 714.2 322.0 712.2 C322.8 710.1 323.5 707.5 322.9 705.2 C322.3 702.9 320.2 700.2 318.6 698.3 C317.0 696.4 315.4 695.0 313.4 694.0 C311.4 693.0 307.6 692.5 306.4 692.2"/>
<path d="M307.3 694.0 C306.9 697.0 305.4 706.5 304.7 712.2 C304.0 717.8 303.3 725.2 303.0 727.7" stroke-dasharray="2.2 1.3" stroke-width="1.2"/>
<path d="M313.4 720.8 L315.1 739.9" stroke-dasharray="2.2 1.3" stroke-width="1.2"/>
<path d="M323.8 707.0 C323.3 710.4 322.3 722.6 321.2 727.7 C320.0 732.9 317.6 736.4 316.8 738.1" stroke-dasharray="2.2 1.3" stroke-width="1.2"/>
<path d="M236.3 674.1 C237.6 676.7 241.2 684.4 244.1 689.6 C247.0 694.8 252.0 702.6 253.6 705.2"/>
<path d="M245.0 668.9 C246.0 671.5 248.7 679.2 251.0 684.4 C253.3 689.6 257.5 697.4 258.8 700.0"/>
<path d="M452.0 529.6 L477.4 530.1" stroke-width="1.6"/>
<path d="M452.0 537.1 L477.0 537.1" stroke-width="1.3" stroke-dasharray="2.2 1.3" stroke-width="1.3"/>
<path d="M494.7 556.1 C496.6 556.0 499.8 555.5 506.0 555.6 C512.2 555.7 524.7 556.7 532.0 556.6 C539.2 556.6 545.2 556.0 549.3 555.2 C553.3 554.4 554.3 554.1 556.2 551.8 C558.1 549.5 559.5 544.5 560.5 541.4 C561.6 538.2 561.7 534.5 562.3 532.7 C562.9 530.9 563.4 530.3 564.0 530.6 C564.6 530.9 565.0 532.1 565.7 534.4 C566.5 536.8 566.7 541.8 568.3 544.8 C569.9 547.9 572.7 550.8 575.3 552.6 C577.9 554.4 581.5 555.0 583.9 555.6 C586.4 556.2 589.7 555.6 590.0 556.1 C590.3 556.6 586.8 557.4 585.7 558.7 C584.5 560.0 583.3 561.6 583.1 563.9 C582.8 566.2 583.2 570.2 583.9 572.6 C584.6 574.9 585.8 575.7 587.4 577.7 C589.0 579.8 591.7 582.7 593.5 584.7 C595.2 586.7 597.1 589.0 597.8 589.9"/>
<path d="M494.7 556.1 C495.2 556.7 495.4 558.6 497.3 559.6 C499.2 560.6 501.7 561.6 506.0 562.2 C510.3 562.7 517.0 563.0 523.3 563.0 C529.7 563.0 538.9 561.7 544.1 562.2 C549.3 562.6 551.0 563.6 554.5 565.6 C557.9 567.6 562.0 571.7 564.9 574.3 C567.8 576.9 569.9 579.0 571.8 581.2 C573.7 583.4 575.4 586.3 576.1 587.3"/>
<path d="M520.7 607.2 C521.0 605.8 521.7 601.7 522.4 598.5 C523.2 595.4 524.5 592.0 525.0 588.1 C525.6 584.2 525.3 577.6 525.9 575.2 C526.5 572.7 527.5 572.7 528.5 573.4 C529.5 574.1 530.7 579.0 532.0 579.5 C533.3 579.9 534.8 577.0 536.3 576.0 C537.7 575.0 539.6 572.6 540.6 573.4 C541.6 574.3 542.1 577.6 542.4 581.2 C542.6 584.8 542.2 591.0 542.4 595.1 C542.5 599.1 543.5 602.6 543.2 605.5 C542.9 608.3 541.6 610.9 540.6 612.4 C539.6 613.8 538.6 614.1 537.2 614.1 C535.7 614.1 533.7 612.8 532.0 612.4 C530.2 612.0 528.5 611.8 526.8 611.5 C525.0 611.2 522.6 611.4 521.6 610.7 C520.6 609.9 520.8 607.8 520.7 607.2"/>
<path d="M531.1 570.0 C531.5 569.8 532.7 568.5 533.7 569.1 C534.7 569.7 535.1 573.3 537.2 573.4 C539.2 573.6 544.1 568.4 545.8 570.0 C547.6 571.5 547.0 577.0 547.6 582.9 C548.1 588.9 549.9 601.1 549.3 605.5 C548.7 609.8 547.0 608.6 544.1 608.9 C541.2 609.2 534.8 608.3 532.0 607.2 C529.1 606.0 527.3 605.2 526.8 602.0 C526.2 598.8 527.8 593.5 528.5 588.1 C529.2 582.8 530.7 573.0 531.1 570.0" stroke-dasharray="2.2 1.3" stroke-width="1.2"/>
<path d="M571.6 573.0 C571.7 572.5 571.7 570.4 572.3 569.9 C572.9 569.4 573.9 569.6 575.1 570.2 C576.2 570.9 577.7 572.6 579.2 573.7 C580.8 574.9 582.7 576.1 584.1 577.2 C585.5 578.2 586.2 578.8 587.6 579.9 C588.9 581.1 591.1 582.7 592.4 584.1 C593.7 585.5 594.3 587.0 595.2 588.3 C596.1 589.5 596.8 590.3 598.0 591.7 C599.1 593.1 601.0 594.8 602.1 596.6 C603.3 598.3 604.2 600.4 604.9 602.1 C605.6 603.8 606.1 605.3 606.3 607.0 C606.4 608.6 606.5 611.1 605.9 611.8 C605.3 612.6 603.8 612.0 602.8 611.5 C601.8 610.9 601.0 609.6 600.0 608.3 C599.1 607.1 598.3 605.2 597.3 604.2 C596.2 603.2 595.2 602.7 593.8 602.1 C592.4 601.5 590.2 601.3 588.9 600.7 C587.7 600.2 586.9 599.5 586.2 598.6 C585.5 597.8 585.4 596.7 584.8 595.9 C584.2 595.1 583.9 594.8 582.7 593.8 C581.6 592.8 579.1 591.0 577.9 589.6 C576.6 588.3 576.0 587.1 575.1 585.5 C574.2 583.9 573.2 582.0 572.7 579.9 C572.1 577.9 571.8 574.2 571.6 573.0"/>
<path d="M573.0 580.6 C573.5 581.4 574.4 583.8 575.8 585.5 C577.2 587.2 579.9 589.6 581.3 591.0 C582.7 592.4 583.6 593.3 584.1 593.8"/>
<path d="M573.7 566.1 C574.4 566.5 576.7 567.7 577.9 568.9 C579.0 570.0 580.2 572.3 580.6 573.0" stroke-dasharray="2.2 1.3" stroke-width="1.2"/>
<path d="M584.1 581.3 C584.8 582.1 587.0 584.2 588.3 586.2 C589.5 588.1 590.9 591.1 591.7 593.1 C592.5 595.1 592.8 596.2 593.1 598.0 C593.5 599.7 593.8 601.4 593.8 603.5 C593.8 605.6 593.7 608.2 593.1 610.4 C592.5 612.6 591.3 616.0 590.3 616.7 C589.4 617.4 588.5 616.1 587.6 614.6 C586.6 613.1 586.2 609.7 584.8 607.7 C583.4 605.6 580.6 604.0 579.2 602.1 C577.9 600.3 576.8 598.2 576.5 596.6 C576.1 595.0 577.1 593.1 577.2 592.4" stroke-dasharray="2.2 1.3" stroke-width="1.2"/>
<path d="M522.3 704.5 C522.1 702.2 521.3 695.2 521.4 690.6 C521.6 686.0 522.3 681.7 523.1 676.8 C524.0 671.9 525.6 666.1 526.6 661.2 C527.6 656.3 529.1 651.1 529.2 647.3 C529.3 643.6 528.8 640.5 527.5 638.7 C526.2 636.8 523.3 635.8 521.4 636.1 C519.5 636.4 517.9 637.7 516.2 640.4 C514.5 643.1 512.7 649.1 511.0 652.5 C509.3 656.0 508.1 659.3 505.8 661.2 C503.5 663.1 500.3 663.6 497.2 663.8 C494.0 663.9 490.5 663.6 486.8 662.0 C483.0 660.5 478.1 657.6 474.6 654.2 C471.2 650.9 468.6 645.7 466.0 642.1 C463.4 638.5 461.4 634.3 459.1 632.6 C456.7 630.9 454.4 631.0 452.1 631.7 C449.8 632.5 446.5 634.3 445.2 636.9 C443.9 639.5 443.8 643.3 444.3 647.3 C444.9 651.4 446.8 656.3 448.7 661.2 C450.5 666.1 453.4 671.6 455.6 676.8 C457.8 682.0 460.1 686.9 461.7 692.4 C463.2 697.8 463.8 703.9 465.1 709.7 C466.4 715.5 467.9 722.1 469.4 727.0 C471.0 731.9 472.0 735.7 474.6 739.1 C477.2 742.6 481.0 744.9 485.0 747.8 C489.1 750.7 494.8 754.3 498.9 756.4 C502.9 758.6 507.6 760.1 509.3 760.8"/>
<path d="M506.5 759.3 C510.0 760.8 521.0 765.4 527.3 768.3 C533.7 771.3 538.9 774.1 544.6 777.0 C550.4 779.9 556.8 783.1 562.0 785.7 C567.2 788.3 570.6 790.9 575.8 792.6 C581.0 794.3 587.9 795.0 593.1 796.1 C598.3 797.1 603.2 797.9 607.0 798.6 C610.8 799.4 614.2 800.1 615.7 800.4"/>
<path d="M484.2 702.7 C485.8 705.3 490.4 713.3 493.7 718.3 C497.0 723.4 502.4 730.6 504.1 733.1"/>
<path d="M492.0 696.7 C493.3 699.1 497.0 706.5 499.8 711.4 C502.5 716.3 507.0 723.7 508.4 726.1"/>
<path d="M552.6 714.9 C554.0 714.9 559.2 714.3 561.2 714.9 C563.3 715.5 563.3 717.5 564.7 718.3 C566.2 719.2 568.2 720.2 569.9 720.1 C571.6 719.9 573.5 717.5 575.1 717.5 C576.7 717.5 578.6 718.5 579.4 720.1 C580.3 721.7 580.7 724.7 580.3 727.0 C579.9 729.3 578.0 731.6 576.8 733.9 C575.7 736.2 574.5 738.8 573.4 740.9 C572.2 742.9 571.4 744.6 569.9 746.1 C568.5 747.5 566.4 748.6 564.7 749.5 C563.0 750.4 561.0 750.4 559.5 751.2 C558.1 752.1 557.5 753.6 556.1 754.7 C554.6 755.9 552.4 757.5 550.9 758.2 C549.3 758.9 547.4 759.3 546.5 759.0 C545.7 758.8 544.9 758.0 545.7 756.4 C546.4 754.9 549.7 752.1 550.9 749.5 C552.0 746.9 552.6 742.0 552.6 740.9 C552.6 739.7 552.3 741.1 550.9 742.6 C549.4 744.0 546.1 747.9 543.9 749.5 C541.8 751.1 539.2 752.4 537.9 752.1 C536.6 751.8 535.4 750.2 536.1 747.8 C536.9 745.3 540.0 740.9 542.2 737.4 C544.4 733.9 547.4 730.8 549.1 727.0 C550.9 723.2 552.0 716.9 552.6 714.9"/>
<path d="M556.1 716.6 C555.8 719.5 554.9 728.2 554.3 733.9 C553.7 739.7 553.2 747.8 552.6 751.2 C552.0 754.7 551.1 754.1 550.9 754.7" stroke-dasharray="2.2 1.3" stroke-width="1.2"/>
<path d="M559.5 716.6 C560.4 717.5 562.7 720.5 564.7 721.8 C566.7 723.1 570.2 723.0 571.6 724.4 C573.1 725.8 573.7 728.3 573.4 730.5 C573.1 732.6 571.4 735.1 569.9 737.4 C568.5 739.7 566.4 742.3 564.7 744.3 C563.0 746.3 561.2 747.5 559.5 749.5 C557.8 751.5 555.8 754.9 554.3 756.4 C552.9 758.0 551.4 758.6 550.9 759.0"/>
<path d="M564.7 718.3 C566.2 719.2 571.6 720.9 573.4 723.5 C575.1 726.1 575.1 729.9 575.1 733.9 C575.1 738.0 574.5 742.9 573.4 747.8 C572.2 752.7 569.6 761.1 568.2 763.4 C566.7 765.7 565.3 761.9 564.7 761.6" stroke-dasharray="2.2 1.3" stroke-width="1.2"/>
<path d="M615.7 800.4 C617.1 800.2 621.9 800.8 624.3 799.5 C626.8 798.2 629.2 795.5 630.4 792.6 C631.5 789.7 631.7 785.4 631.2 782.2 C630.8 779.0 628.6 776.1 627.8 773.5 C626.9 770.9 626.1 770.1 626.1 766.6 C626.1 763.1 626.6 757.1 627.8 752.7 C628.9 748.4 631.1 744.7 633.0 740.6 C634.9 736.6 637.9 731.8 639.0 728.5 C640.2 725.2 640.2 722.1 639.9 720.7 C639.6 719.3 638.5 718.8 637.3 719.8 C636.2 720.8 634.6 724.7 633.0 726.8 C631.4 728.8 629.8 729.7 627.8 732.0 C625.8 734.3 623.2 737.4 620.9 740.6 C618.5 743.8 615.9 747.6 613.9 751.0 C611.9 754.5 610.2 757.7 608.7 761.4 C607.3 765.2 605.8 769.2 605.3 773.5 C604.7 777.9 604.7 783.6 605.3 787.4 C605.8 791.1 607.0 793.9 608.7 796.1 C610.5 798.2 614.5 799.7 615.7 800.4"/>
<path d="M613.9 756.2 C613.6 758.5 612.2 765.5 612.2 770.1 C612.2 774.7 612.8 780.3 613.9 783.9 C615.1 787.5 617.4 790.9 619.1 791.7 C620.9 792.6 623.5 791.9 624.3 789.1 C625.2 786.4 624.2 779.9 624.3 775.3 C624.5 770.6 625.0 763.7 625.2 761.4"/>
<path d="M624.3 721.6 C624.9 722.4 627.5 724.5 627.8 726.8 C628.1 729.1 626.9 731.7 626.1 735.4 C625.2 739.2 623.5 745.0 622.6 749.3 C621.7 753.6 621.1 759.4 620.9 761.4" stroke-dasharray="2.2 1.3" stroke-width="1.2"/>
<path d="M619.1 732.0 C618.3 733.7 615.4 738.6 613.9 742.4 C612.5 746.1 610.8 751.0 610.5 754.5 C610.2 757.9 611.9 761.7 612.2 763.1" stroke-dasharray="2.2 1.3" stroke-width="1.2"/>
<g class="lbl" fill="#111" stroke="none"><text x="412.0" y="530.6" style="font-size:7.4px">Pre-Tr</text>
<text x="412.0" y="538.9" style="font-size:7.4px">Post-Tr</text></g></g><!--e13-->
</svg>
</body></html>
